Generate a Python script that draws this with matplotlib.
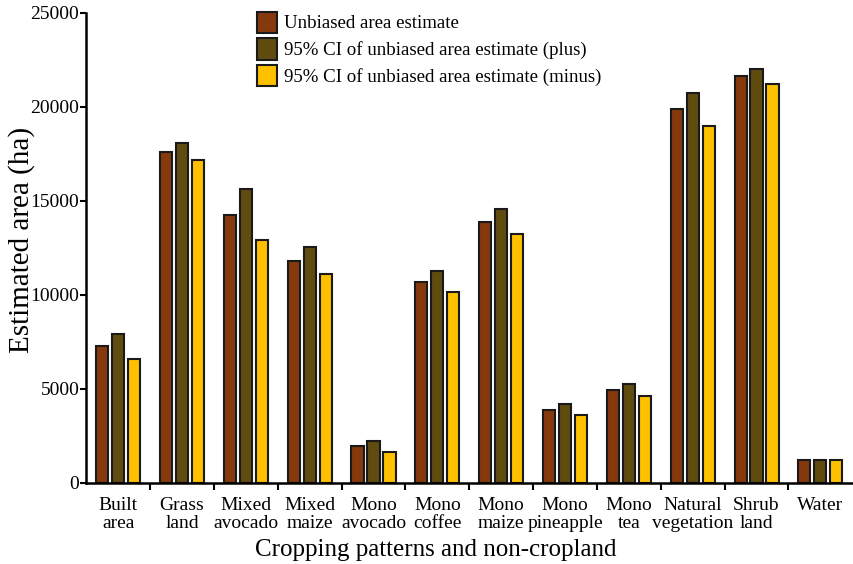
import numpy as np
import matplotlib
matplotlib.use("Agg")
import matplotlib.pyplot as plt

categories = ["Built\narea", "Grass\nland", "Mixed\navocado", "Mixed\nmaize", "Mono\navocado",
              "Mono\ncoffee", "Mono\nmaize", "Mono\npineapple", "Mono\ntea", "Natural\nvegetation",
              "Shrub\nland", "Water"]
unbiased = [7280, 17600, 14250, 11800, 1970, 10690, 13880, 3880, 4930, 19870, 21620, 1190]
ci_plus = [7930, 18080, 15630, 12550, 2230, 11270, 14570, 4200, 5230, 20740, 22000, 1190]
ci_minus = [6600, 17180, 12920, 11110, 1650, 10160, 13240, 3620, 4630, 18990, 21220, 1190]
series_names = ["Unbiased area estimate",
                "95% CI of unbiased area estimate (plus)",
                "95% CI of unbiased area estimate (minus)"]
colors = ["#85390D", "#614C0F", "#FFC000"]

plt.rcParams['font.family'] = ['Liberation Serif', 'DejaVu Serif']

fig = plt.figure(figsize=(8.54, 5.64), dpi=100)
ax = fig.add_axes([0.101, 0.144, 0.897, 0.833])

x = np.arange(len(categories))
w = 0.19
off = 0.25
for i, (vals, name) in enumerate(zip([unbiased, ci_plus, ci_minus], series_names)):
    ax.bar(x + (i - 1) * off, vals, width=w, color=colors[i], edgecolor="#1a1a1a",
           linewidth=1.5, label=name)

ax.set_xlim(-0.5, len(categories) - 0.5)
ax.set_ylim(0, 25000)
ax.set_yticks([0, 5000, 10000, 15000, 20000, 25000])
ax.set_xticks(x)
ax.set_xticklabels(categories, fontsize=14, linespacing=1.12)
ax.set_xticks(np.arange(0.5, len(categories) - 0.5), minor=True)
ax.tick_params(axis="x", which="major", length=0, pad=10)
ax.tick_params(axis="x", which="minor", length=5, width=1.5, direction="out")
ax.tick_params(axis="y", labelsize=14, length=4, width=1.5, pad=1)
for s in ["top", "right"]:
    ax.spines[s].set_visible(False)
for s in ["left", "bottom"]:
    ax.spines[s].set_linewidth(1.8)

ax.set_ylabel("Estimated area (ha)", fontsize=21)
ax.set_xlabel("Cropping patterns and non-cropland", fontsize=18)
ax.yaxis.set_label_coords(-0.067, 0.517)
ax.xaxis.set_label_coords(0.456, -0.119)

fig.legend(loc="upper left", bbox_to_anchor=(0.292, 0.993), frameon=False, fontsize=13.6,
           handlelength=1.05, handleheight=1.35, handletextpad=0.4, labelspacing=0.3,
           borderaxespad=0)

fig.savefig("out.png", dpi=100)
